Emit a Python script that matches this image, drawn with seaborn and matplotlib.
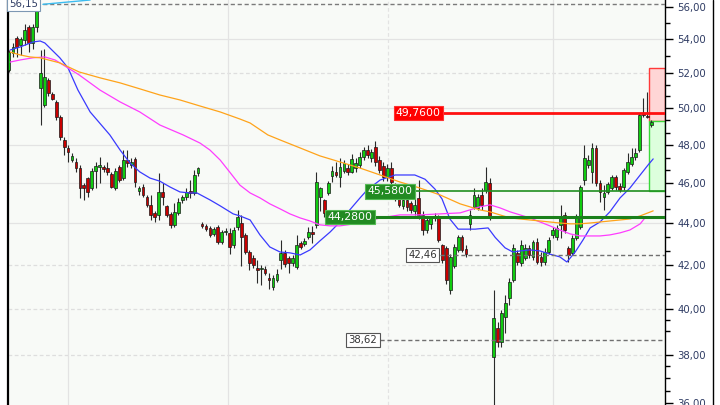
import matplotlib
matplotlib.use("Agg")
import matplotlib.pyplot as plt
import matplotlib.ticker as mticker
from matplotlib.patches import Rectangle
from matplotlib.lines import Line2D
import numpy as np
import pandas as pd
import seaborn as sns

# ---------------- data ----------------
opens = [52.19, 53.19, 54.08, 53.66, 53.96, 54.75, 53.78, 54.75, 51.15, 50.19,
         51.61, 50.80, 50.36, 49.52, 48.27, 47.84, 47.20, 47.10, 46.78, 45.91,
         46.26, 45.75, 46.63, 46.84, 46.84, 46.78, 46.47, 45.75, 46.84, 46.26,
         47.20, 46.94, 47.26, 45.60, 45.80, 45.30, 44.90, 44.50, 44.40, 45.55,
         44.85, 44.45, 43.91, 44.50, 45.15, 45.30, 45.60, 45.50, 46.50, 43.96,
         43.86, 43.76, 43.47, 43.81, 43.08, 43.56, 43.52, 42.94, 43.81, 44.00,
         43.42, 42.60, 42.32, 41.85, 41.80, 41.80, 41.40, 40.98, 41.30, 42.23,
         42.56, 42.32, 42.08, 41.90, 43.03, 42.98, 43.32, 43.56, 43.91, 45.30,
         45.15, 45.50, 46.37, 46.60, 46.30, 46.63, 46.78, 46.60, 46.78, 46.94,
         47.36, 47.73, 47.30, 47.90, 47.20, 46.90, 46.30, 46.80, 45.90, 45.30,
         44.85, 45.15, 45.00, 44.60, 45.25, 44.40, 43.66, 43.96, 44.25, 44.30,
         42.94, 42.80, 40.84, 41.95, 42.70, 43.32, 42.75, 43.96, 44.80, 44.75,
         45.40, 45.65, 46.00, 37.90, 39.15, 38.55, 39.62, 40.47, 41.30, 42.56,
         42.08, 42.32, 42.80, 42.37, 43.08, 42.37, 42.13, 42.60, 43.42, 43.32,
         43.91, 44.40, 42.80, 42.56, 43.27, 43.81, 46.16, 46.94, 46.58, 47.84,
         46.00, 45.30, 45.55, 45.75, 46.32, 45.85, 45.80, 46.58, 46.99, 47.36,
         47.73, 49.74, 49.58, 49.08]
highs = [53.36, 53.78, 54.20, 54.14, 54.93, 54.87, 54.90, 56.15, 53.36, 53.42,
         51.70, 50.90, 50.47, 49.63, 48.43, 48.00, 47.57, 47.31, 46.94, 46.00,
         46.32, 46.78, 47.10, 47.36, 46.94, 47.10, 46.58, 46.78, 46.94, 47.73,
         47.73, 47.31, 47.36, 45.85, 45.96, 45.40, 45.40, 44.60, 46.53, 46.00,
         44.90, 44.55, 45.00, 45.25, 45.40, 45.75, 46.16, 46.68, 46.84, 44.05,
         43.96, 43.86, 43.81, 43.91, 43.66, 43.76, 43.76, 43.81, 44.65, 44.40,
         43.50, 42.70, 42.46, 42.23, 42.00, 41.95, 41.60, 41.50, 41.80, 43.18,
         42.70, 42.40, 42.46, 43.40, 43.13, 43.27, 43.81, 43.86, 46.58, 45.80,
         45.20, 46.10, 46.89, 47.10, 47.30, 47.20, 47.00, 47.50, 47.30, 47.60,
         47.90, 48.00, 47.80, 48.20, 47.40, 47.10, 47.00, 47.10, 46.00, 45.60,
         45.30, 45.40, 45.10, 45.50, 46.16, 44.60, 44.30, 44.35, 44.50, 44.40,
         43.00, 42.90, 42.50, 43.00, 43.40, 43.40, 42.94, 44.65, 45.75, 45.45,
         45.75, 46.84, 46.26, 40.84, 39.40, 39.94, 40.60, 41.40, 43.00, 42.70,
         43.18, 43.00, 42.94, 43.18, 43.27, 42.60, 42.80, 43.32, 43.81, 43.91,
         44.90, 44.55, 42.90, 43.42, 44.45, 45.91, 48.00, 47.47, 48.10, 48.00,
         46.16, 45.90, 46.06, 46.42, 46.42, 46.00, 46.78, 47.57, 47.84, 47.84,
         49.74, 50.58, 50.92, 49.36]
lows = [52.07, 52.95, 52.95, 53.07, 53.66, 53.24, 53.42, 54.44, 49.08, 50.08,
        50.70, 50.47, 49.36, 48.27, 47.47, 47.10, 47.10, 46.58, 45.25, 45.15,
        45.30, 45.65, 45.75, 46.00, 46.58, 46.42, 45.75, 45.65, 46.06, 46.16,
        46.84, 46.78, 45.80, 45.40, 45.30, 44.80, 44.15, 44.05, 44.15, 44.90,
        44.30, 43.76, 43.80, 44.40, 45.00, 45.15, 45.25, 45.40, 46.37, 43.76,
        43.60, 43.32, 43.37, 42.98, 42.98, 43.42, 42.50, 42.80, 43.66, 41.95,
        42.50, 41.76, 41.85, 41.16, 41.07, 41.50, 40.90, 40.84, 41.20, 41.80,
        41.90, 41.60, 41.95, 41.80, 42.75, 42.90, 43.20, 43.03, 43.76, 44.60,
        44.30, 45.40, 46.06, 46.30, 45.80, 46.50, 46.40, 46.50, 46.60, 46.80,
        47.20, 47.30, 47.10, 46.90, 46.50, 46.10, 46.10, 45.90, 45.10, 44.80,
        44.70, 44.60, 44.50, 44.40, 44.20, 43.40, 43.50, 43.70, 44.10, 43.08,
        42.10, 41.10, 40.65, 41.85, 42.60, 42.60, 42.37, 43.66, 44.70, 44.65,
        44.65, 45.50, 44.15, 35.60, 38.30, 38.30, 38.93, 40.16, 41.20, 41.99,
        41.95, 42.23, 42.32, 42.23, 42.04, 41.95, 41.99, 42.50, 43.27, 43.18,
        43.27, 43.52, 42.13, 42.46, 43.18, 43.71, 45.91, 46.80, 46.00, 45.85,
        45.05, 44.65, 45.45, 45.65, 45.65, 45.55, 45.65, 46.47, 46.89, 47.20,
        47.62, 49.52, 49.47, 48.97]
closes = [53.24, 53.54, 53.54, 54.02, 54.56, 53.78, 54.75, 55.79, 52.02, 51.78,
          50.86, 50.50, 49.52, 48.43, 47.89, 47.62, 47.42, 46.78, 45.75, 45.75,
          45.55, 46.63, 46.89, 46.94, 46.73, 46.58, 45.80, 46.63, 46.16, 47.20,
          47.05, 47.10, 46.06, 45.75, 45.40, 44.90, 44.40, 44.30, 45.55, 45.30,
          44.40, 43.91, 44.55, 45.05, 45.30, 45.55, 45.50, 46.42, 46.78, 43.86,
          43.71, 43.42, 43.71, 43.08, 43.56, 43.61, 42.84, 43.66, 44.30, 43.30,
          42.60, 42.08, 41.99, 41.76, 41.85, 41.62, 41.30, 41.40, 41.58, 42.56,
          42.04, 42.08, 42.32, 42.94, 42.84, 43.13, 43.56, 43.45, 46.06, 45.75,
          44.50, 46.00, 46.63, 46.40, 46.84, 47.05, 46.60, 47.26, 47.05, 47.36,
          47.73, 47.47, 47.60, 47.10, 46.68, 46.32, 46.80, 46.06, 45.30, 44.90,
          45.15, 44.80, 44.65, 44.90, 44.40, 43.66, 44.15, 44.25, 44.35, 43.18,
          42.20, 41.30, 42.37, 42.84, 43.32, 42.70, 42.50, 44.40, 45.40, 45.30,
          44.90, 46.06, 44.25, 39.58, 38.55, 39.80, 40.25, 41.20, 42.80, 42.13,
          42.94, 42.80, 42.46, 43.08, 42.13, 42.13, 42.60, 43.18, 43.66, 43.76,
          44.25, 43.66, 42.46, 43.27, 44.30, 45.80, 47.31, 47.20, 47.84, 46.00,
          45.55, 45.50, 45.96, 46.32, 45.80, 45.65, 46.68, 47.10, 47.36, 47.57,
          49.63, 49.63, 49.52, 49.25]

# moving averages, sampled at bar positions
ma_fast_x = [0.3, 2.8, 6.1, 7.9, 9.1, 10.9, 12.9, 15.0, 17.5, 20.6, 25.6, 28.2, 30.7,
             33.2, 35.8, 38.3, 40.9, 43.4, 45.9, 47.7, 51.0, 53.6, 56.9, 58.6, 61.2,
             63.7, 66.2, 68.8, 71.3, 73.9, 76.4, 78.9, 81.5, 84.0, 86.5, 89.1, 90.9,
             94.2, 98.0, 103.0, 105.6, 108.1, 109.9, 111.9, 114.0, 118.3, 121.6,
             123.4, 125.9, 127.9, 129.7, 132.2, 134.8, 137.3, 139.8, 141.6, 143.7,
             145.7, 147.5, 150.0, 152.5, 155.1, 157.6, 160.2, 162.2, 163.5]
ma_fast_y = [53.36, 53.54, 53.84, 53.90, 53.78, 53.36, 52.90, 52.30, 51.03, 49.80,
             48.54, 47.73, 47.05, 46.58, 46.26, 46.10, 45.80, 45.55, 45.50, 45.50,
             45.15, 44.85, 44.45, 44.35, 44.15, 43.42, 42.84, 42.60, 42.56, 42.46,
             42.70, 43.13, 43.56, 44.05, 44.65, 45.25, 45.65, 46.16, 46.42, 46.42,
             46.20, 45.70, 45.20, 44.20, 43.70, 43.70, 43.76, 43.30, 42.80, 42.60,
             42.65, 42.70, 42.65, 42.50, 42.37, 42.13, 42.60, 43.18, 43.76, 44.05,
             44.55, 45.25, 45.75, 46.42, 46.94, 47.26]
ma_mid_x = [0.3, 2.8, 6.1, 9.1, 11.7, 15.0, 17.8, 23.1, 28.2, 33.2, 38.3, 44.2, 48.5,
            51.0, 53.6, 56.1, 58.6, 61.2, 63.7, 66.2, 68.8, 71.3, 73.9, 76.4, 78.9,
            81.5, 84.0, 89.1, 94.2, 99.2, 104.3, 109.4, 114.5, 119.5, 122.1, 124.6,
            127.2, 129.7, 132.2, 134.8, 137.3, 139.8, 142.4, 144.9, 147.5, 150.0,
            152.5, 155.1, 157.6, 160.2, 161.4]
ma_mid_y = [52.65, 52.77, 52.90, 52.95, 52.77, 52.30, 51.90, 51.03, 50.36, 49.80,
            49.08, 48.54, 48.10, 47.73, 47.20, 46.55, 45.90, 45.50, 45.25, 44.95,
            44.70, 44.45, 44.25, 44.10, 43.91, 43.86, 43.86, 44.00, 44.25, 44.40,
            44.40, 44.45, 44.50, 44.80, 44.90, 44.75, 44.55, 44.40, 44.25, 44.05,
            43.86, 43.66, 43.47, 43.37, 43.37, 43.37, 43.42, 43.52, 43.66, 43.96,
            44.25]
ma_slow_x = [0.3, 2.8, 5.3, 7.9, 12.9, 17.8, 23.1, 28.2, 33.2, 38.3, 43.4, 48.5, 53.6,
             58.6, 61.2, 65.7, 68.8, 73.9, 78.9, 84.0, 89.1, 94.2, 99.2, 104.3, 109.4,
             114.5, 117.0, 119.5, 122.1, 124.6, 127.2, 129.7, 132.2, 134.8, 137.3,
             139.8, 142.4, 144.9, 147.5, 150.0, 152.5, 155.1, 157.6, 160.2, 163.5]
ma_slow_y = [53.24, 53.07, 52.95, 52.90, 52.60, 52.07, 51.73, 51.44, 51.10, 50.75,
             50.47, 50.13, 49.80, 49.41, 49.19, 48.54, 48.27, 47.84, 47.42, 47.10,
             46.78, 46.42, 46.06, 45.75, 45.40, 44.95, 44.80, 44.65, 44.55, 44.40,
             44.25, 44.20, 44.15, 44.10, 44.05, 44.00, 43.96, 43.96, 44.00, 44.05,
             44.10, 44.15, 44.20, 44.35, 44.60]

major_ticks = [36, 38, 40, 42, 44, 46, 48, 50, 52, 54, 56]
tick_labels = ["36,00", "38,00", "40,00", "42,00", "44,00", "46,00",
               "48,00", "50,00", "52,00", "54,00", "56,00"]
minor_ticks = [55, 53, 51.33, 50.67, 49.33, 48.67, 47.33, 46.67, 45.33, 44.67,
               43.33, 42.67, 41.33, 40.67, 39.5, 39, 37.5, 37, 36.5]

level_high = 56.15
level_low1 = 42.46
level_low2 = 38.62
level_red = 49.76
level_green1 = 45.58
level_green2 = 44.28
label_high, label_low1, label_low2 = "56,15", "42,46", "38,62"
label_red, label_green1, label_green2 = "49,7600", "45,5800", "44,2800"
pos_entry, pos_target, pos_stop = 49.30, 52.30, 45.58
month_lines = [15.0, 55.6, 96.2, 138.1]

# ---------------- style ----------------
sns.set_style("white")
plt.rcParams['font.family'] = ['DejaVu Sans']

fig = plt.figure(figsize=(7.2, 4.05), dpi=100, facecolor='white')
ax = fig.add_axes([8 / 720, 0, 657 / 720, 1])
ax.set_facecolor('#f8faf7')
ax.set_yscale('log')
XMIN, XMAX = -0.25, 166.5
ax.set_xlim(XMIN, XMAX)
ax.set_ylim(35.92, 56.42)

for s in ['top', 'bottom']:
    ax.spines[s].set_visible(False)
ax.spines['left'].set_color('black')
ax.spines['left'].set_linewidth(1.6)
ax.spines['right'].set_color('black')
ax.spines['right'].set_linewidth(1.0)

ax.yaxis.set_major_locator(mticker.FixedLocator(major_ticks))
ax.yaxis.set_major_formatter(mticker.FixedFormatter(tick_labels))
ax.yaxis.set_minor_locator(mticker.FixedLocator(minor_ticks))
ax.yaxis.set_minor_formatter(mticker.NullFormatter())
ax.yaxis.tick_right()
ax.tick_params(axis='y', which='major', length=6, width=1, colors='black',
               labelcolor='#2e3b63', labelsize=7.3, pad=3)
ax.tick_params(axis='y', which='minor', length=3.5, width=1, colors='black')
ax.set_xticks([])

# grid
solid_levels = [54, 50, 48, 46, 44]
dashed_levels = [52, 42, 40, 38]
for v in solid_levels:
    ax.axhline(v, color='#e3e3e3', lw=0.9, zorder=0.5)
for v in dashed_levels:
    ax.axhline(v, color='#dedede', lw=0.9, ls=(0, (3, 2)), zorder=0.5)
for k, v in enumerate(month_lines):
    ax.axvline(v, color='#e3e3e3', lw=0.9, ls=(0, (3, 2)) if k == 2 else '-', zorder=0.5)

# position boxes
ax.add_patch(Rectangle((162.45, pos_entry), XMAX - 162.45, pos_target - pos_entry,
                       facecolor='#ffd6d6', edgecolor='#ff3a3a', lw=1.0, zorder=1))
ax.add_patch(Rectangle((162.45, pos_stop), XMAX - 162.45, pos_entry - pos_stop,
                       facecolor='#ddffdd', edgecolor='#3ad83a', lw=1.0, zorder=1))

# candles
idx = np.arange(len(opens))
o = np.array(opens); h = np.array(highs); l = np.array(lows); c = np.array(closes)
up = c >= o
ax.vlines(idx, l, h, color='#2a2a2a', lw=0.8, zorder=3)
bottoms = np.minimum(o, c)
heights = np.maximum(np.abs(c - o), 0.02)
ax.bar(idx[up], heights[up], bottom=bottoms[up], width=0.7, color='#10cc10',
       edgecolor='#1a1a1a', linewidth=0.5, zorder=3.2)
ax.bar(idx[~up], heights[~up], bottom=bottoms[~up], width=0.7, color='#c80000',
       edgecolor='#1a1a1a', linewidth=0.5, zorder=3.2)

# moving averages
ma = pd.DataFrame({'x': ma_fast_x, 'y': ma_fast_y})
sns.lineplot(data=ma, x='x', y='y', ax=ax, color='#3a3aff', lw=0.9, zorder=4,
             estimator=None, sort=False)
ma = pd.DataFrame({'x': ma_mid_x, 'y': ma_mid_y})
sns.lineplot(data=ma, x='x', y='y', ax=ax, color='#ff3cff', lw=0.9, zorder=4,
             estimator=None, sort=False)
ma = pd.DataFrame({'x': ma_slow_x, 'y': ma_slow_y})
sns.lineplot(data=ma, x='x', y='y', ax=ax, color='#ffa31a', lw=0.9, zorder=4,
             estimator=None, sort=False)
ax.set_xlabel(''); ax.set_ylabel('')

# levels
ax.axhline(level_high, color='#7a7a7a', lw=1.0, ls=(0, (3, 2)), zorder=5)
ax.plot([8.6, 20.6], [level_high, 56.42], color='#3cbcf0', lw=1.0, zorder=5)
ax.text(0.05, 56.17, label_high, ha='left', va='center', fontsize=7.3, color='#2e3b63',
        zorder=6, bbox=dict(boxstyle='square,pad=0.22', fc='white', ec='#7d98b3', lw=0.8))

ax.hlines(level_low1, 109.4, XMAX, color='#707070', lw=1.0, ls=(0, (3, 2)), zorder=5)
ax.text(108.7, level_low1, label_low1, ha='right', va='center', fontsize=7.3,
        color='#333333', zorder=6,
        bbox=dict(boxstyle='square,pad=0.22', fc='white', ec='#555555', lw=0.8))
ax.hlines(level_low2, 94.2, XMAX, color='#707070', lw=1.0, ls=(0, (3, 2)), zorder=5)
ax.text(93.5, level_low2, label_low2, ha='right', va='center', fontsize=7.3,
        color='#333333', zorder=6,
        bbox=dict(boxstyle='square,pad=0.22', fc='white', ec='#555555', lw=0.8))

ax.hlines(level_red, 110.2, XMAX, color='#ff1010', lw=2.0, zorder=5)
ax.text(109.6, level_red, label_red, ha='right', va='center', fontsize=7.8,
        color='white', zorder=6,
        bbox=dict(boxstyle='square,pad=0.2', fc='#ff0000', ec='#ff3030', lw=0.8))
ax.hlines(level_green1, 103.0, XMAX, color='#1f8f1f', lw=1.2, zorder=5)
ax.text(102.4, level_green1, label_green1, ha='right', va='center', fontsize=7.8,
        color='white', zorder=6,
        bbox=dict(boxstyle='square,pad=0.2', fc='#228b22', ec='#55bb55', lw=0.8))
ax.hlines(level_green2, 92.9, XMAX, color='#1a801a', lw=2.2, zorder=5)
ax.text(92.3, level_green2, label_green2, ha='right', va='center', fontsize=7.8,
        color='white', zorder=6,
        bbox=dict(boxstyle='square,pad=0.2', fc='#228b22', ec='#55bb55', lw=0.8))

fig.add_artist(Line2D([712.5 / 720] * 2, [0, 1], transform=fig.transFigure,
                      color='black', lw=1.0))

fig.savefig('out.png', dpi=100, facecolor='white')
